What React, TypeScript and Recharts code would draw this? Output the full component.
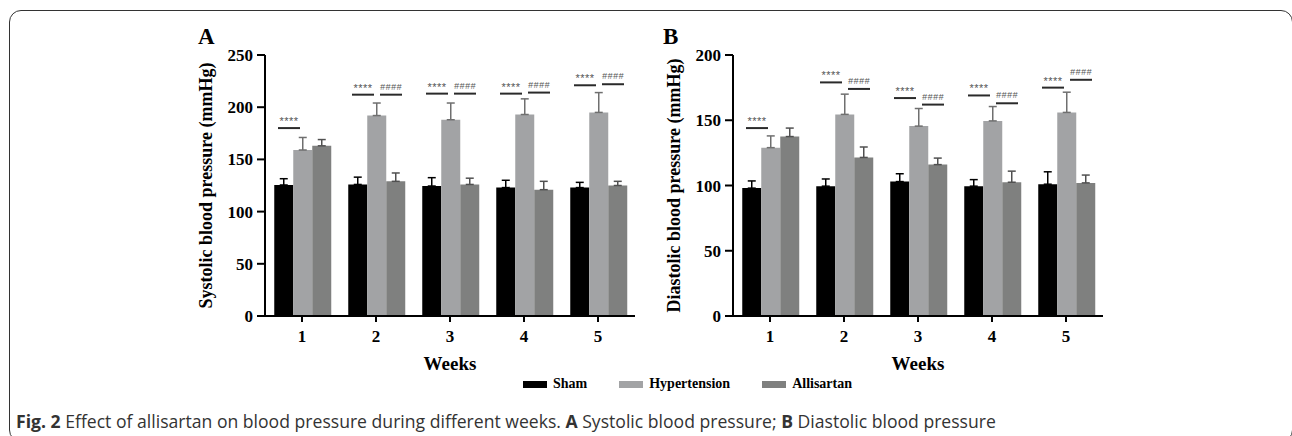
import React from "react";
import { ComposedChart, Bar, XAxis, YAxis, ErrorBar, Scatter } from "recharts";

const weeks = ["1", "2", "3", "4", "5"];

// A: systolic
const sbpSham = [125.5, 126, 124.5, 123, 123];
const sbpHyp = [159, 192, 188, 193, 195];
const sbpAlli = [163, 129, 126, 121, 125];
const sbpShamErr = [6, 7, 8, 7, 5];
const sbpHypErr = [12, 12, 16, 15, 19];
const sbpAlliErr = [6, 8, 6, 8, 4];
const sbpStar = [180, 212, 213, 213, 221];
const sbpHash = [null, 212, 213, 214, 222];

// B: diastolic
const dbpSham = [98, 99.5, 103, 99.5, 101];
const dbpHyp = [129, 154.5, 145.5, 149.5, 156];
const dbpAlli = [137.5, 121.5, 116, 102.5, 102];
const dbpShamErr = [5.5, 5.5, 6, 5, 9.5];
const dbpHypErr = [9, 15.5, 13.5, 11, 15.5];
const dbpAlliErr = [6.5, 8, 5, 8.5, 6];
const dbpStar = [144, 179, 167, 169, 175];
const dbpHash = [null, 174, 162, 163, 181];

const sbpTicks = [0, 50, 100, 150, 200, 250];
const dbpTicks = [0, 50, 100, 150, 200];

const SERIES = [
  { key: "sham", name: "Sham", color: "#000000", err: "#000000" },
  { key: "hyp", name: "Hypertension", color: "#a2a3a5", err: "#6f6f6f" },
  { key: "alli", name: "Allisartan", color: "#7f807f", err: "#505050" },
];

const SERIF = "'Liberation Serif', 'Times New Roman', serif";

function buildRows(sham, hyp, alli, shamErr, hypErr, alliErr, star, hash) {
  return weeks.map((w, i) => ({
    week: w,
    sham: sham[i],
    hyp: hyp[i],
    alli: alli[i],
    shamErr: [0, shamErr[i]],
    hypErr: [0, hypErr[i]],
    alliErr: [0, alliErr[i]],
    star: star[i],
    hash: hash[i],
  }));
}

const sbpRows = buildRows(sbpSham, sbpHyp, sbpAlli, sbpShamErr, sbpHypErr, sbpAlliErr, sbpStar, sbpHash);
const dbpRows = buildRows(dbpSham, dbpHyp, dbpAlli, dbpShamErr, dbpHypErr, dbpAlliErr, dbpStar, dbpHash);

const sigMark = (key: string, symbol: string, x1: number, x2: number, dy: number, size: number, italic: boolean) => (props: any) => {
  const { cx, cy, payload } = props;
  if (payload == null || payload[key] == null || cx == null || cy == null || isNaN(cy)) return <g />;
  return (
    <g>
      <line x1={cx + x1} x2={cx + x2} y1={cy} y2={cy} stroke="#2a2a2a" strokeWidth={2} />
      <text
        x={cx + (x1 + x2) / 2}
        y={cy - dy}
        textAnchor="middle"
        fontSize={size}
        fill="#555"
        fontStyle={italic ? "italic" : "normal"}
        fontFamily="'Liberation Sans', sans-serif"
        letterSpacing={0.5}
      >
        {symbol}
      </text>
    </g>
  );
};

const starShape = sigMark("star", "****", -24, -2, 3, 11, false);
const hashShape = sigMark("hash", "####", 4, 26, 5, 9, true);

function LegendRow() {
  return (
    <div
      style={{
        position: "absolute",
        left: 523,
        top: 376,
        display: "flex",
        alignItems: "center",
        fontFamily: SERIF,
        fontWeight: "bold",
        fontSize: 14,
        color: "#000",
      }}
    >
      {SERIES.map((s) => (
        <div key={s.key} style={{ display: "flex", alignItems: "center", marginRight: 32 }}>
          <div style={{ width: 24, height: 7, background: s.color, marginRight: 6 }} />
          <span>{s.name}</span>
        </div>
      ))}
    </div>
  );
}

function Panel({ rows, domain, ticks, yTitle, left }: any) {
  return (
    <div style={{ position: "absolute", left, top: 20 }}>
      <ComposedChart
        width={490}
        height={380}
        data={rows}
        margin={{ top: 35, right: 15, bottom: 24, left: 0 }}
        barCategoryGap="12.5%"
        barGap={0}
      >
        <XAxis
          dataKey="week"
          height={60}
          tickSize={6}
          tickMargin={8}
          axisLine={{ stroke: "#000", strokeWidth: 2 }}
          tickLine={{ stroke: "#000", strokeWidth: 2 }}
          tick={{ fill: "#000", fontSize: 17, fontWeight: "bold", fontFamily: SERIF }}
          label={{
            content: (p: any) => {
              const vb = p.viewBox || {};
              return (
                <text x={vb.x + vb.width / 2} y={vb.y + 47} textAnchor="middle" dominantBaseline="central" fontSize={19} fontWeight="bold" fontFamily={SERIF} fill="#000">
                  Weeks
                </text>
              );
            },
          }}
        />
        <YAxis
          width={105}
          domain={domain}
          ticks={ticks}
          interval={0}
          tickSize={8}
          tickMargin={4}
          axisLine={{ stroke: "#000", strokeWidth: 2 }}
          tickLine={{ stroke: "#000", strokeWidth: 2 }}
          tick={{ fill: "#000", fontSize: 17, fontWeight: "bold", fontFamily: SERIF }}
          label={{
            content: (p: any) => {
              const vb = p.viewBox || {};
              const cx = vb.x + 46;
              const cy = vb.y + vb.height / 2;
              return (
                <text x={cx} y={cy} transform={`rotate(-90 ${cx} ${cy})`} textAnchor="middle" dominantBaseline="central" fontSize={18} fontWeight="bold" fontFamily={SERIF} fill="#000">
                  {yTitle}
                </text>
              );
            },
          }}
        />
        {SERIES.map((s) => (
          <Bar key={s.key} dataKey={s.key} name={s.name} fill={s.color} isAnimationActive={false}>
            <ErrorBar dataKey={s.key + "Err"} direction="y" width={4} stroke={s.err} strokeWidth={1.5} />
          </Bar>
        ))}
        <Scatter dataKey="star" shape={starShape} isAnimationActive={false} legendType="none" />
        <Scatter dataKey="hash" shape={hashShape} isAnimationActive={false} legendType="none" />
      </ComposedChart>
    </div>
  );
}

export default function App() {
  return (
    <div style={{ position: "absolute", left: 0, top: 0, width: 1292, height: 436, overflow: "hidden", background: "#fff" }}>
      <div
        style={{
          position: "absolute",
          left: 9,
          top: 10,
          width: 1284,
          height: 432,
          border: "1.5px solid #333",
          borderRadius: 12,
          boxSizing: "border-box",
        }}
      />
      <div style={{ position: "absolute", left: 198, top: 24, fontFamily: SERIF, fontWeight: "bold", fontSize: 23 }}>A</div>
      <div style={{ position: "absolute", left: 663, top: 24, fontFamily: SERIF, fontWeight: "bold", fontSize: 23 }}>B</div>
      <Panel rows={sbpRows} domain={[0, 250]} ticks={sbpTicks} yTitle="Systolic blood pressure (mmHg)" left={160} />
      <Panel rows={dbpRows} domain={[0, 200]} ticks={dbpTicks} yTitle="Diastolic blood pressure (mmHg)" left={628} />
      <LegendRow />
      <div
        style={{
          position: "absolute",
          left: 16,
          top: 409,
          fontFamily: "'Open Sans', 'Noto Sans', sans-serif",
          fontSize: 17.6,
          color: "#333",
          whiteSpace: "nowrap",
        }}
      >
        <b>Fig. 2</b> Effect of allisartan on blood pressure during different weeks. <b>A</b> Systolic blood pressure; <b>B</b> Diastolic blood pressure
      </div>
    </div>
  );
}
